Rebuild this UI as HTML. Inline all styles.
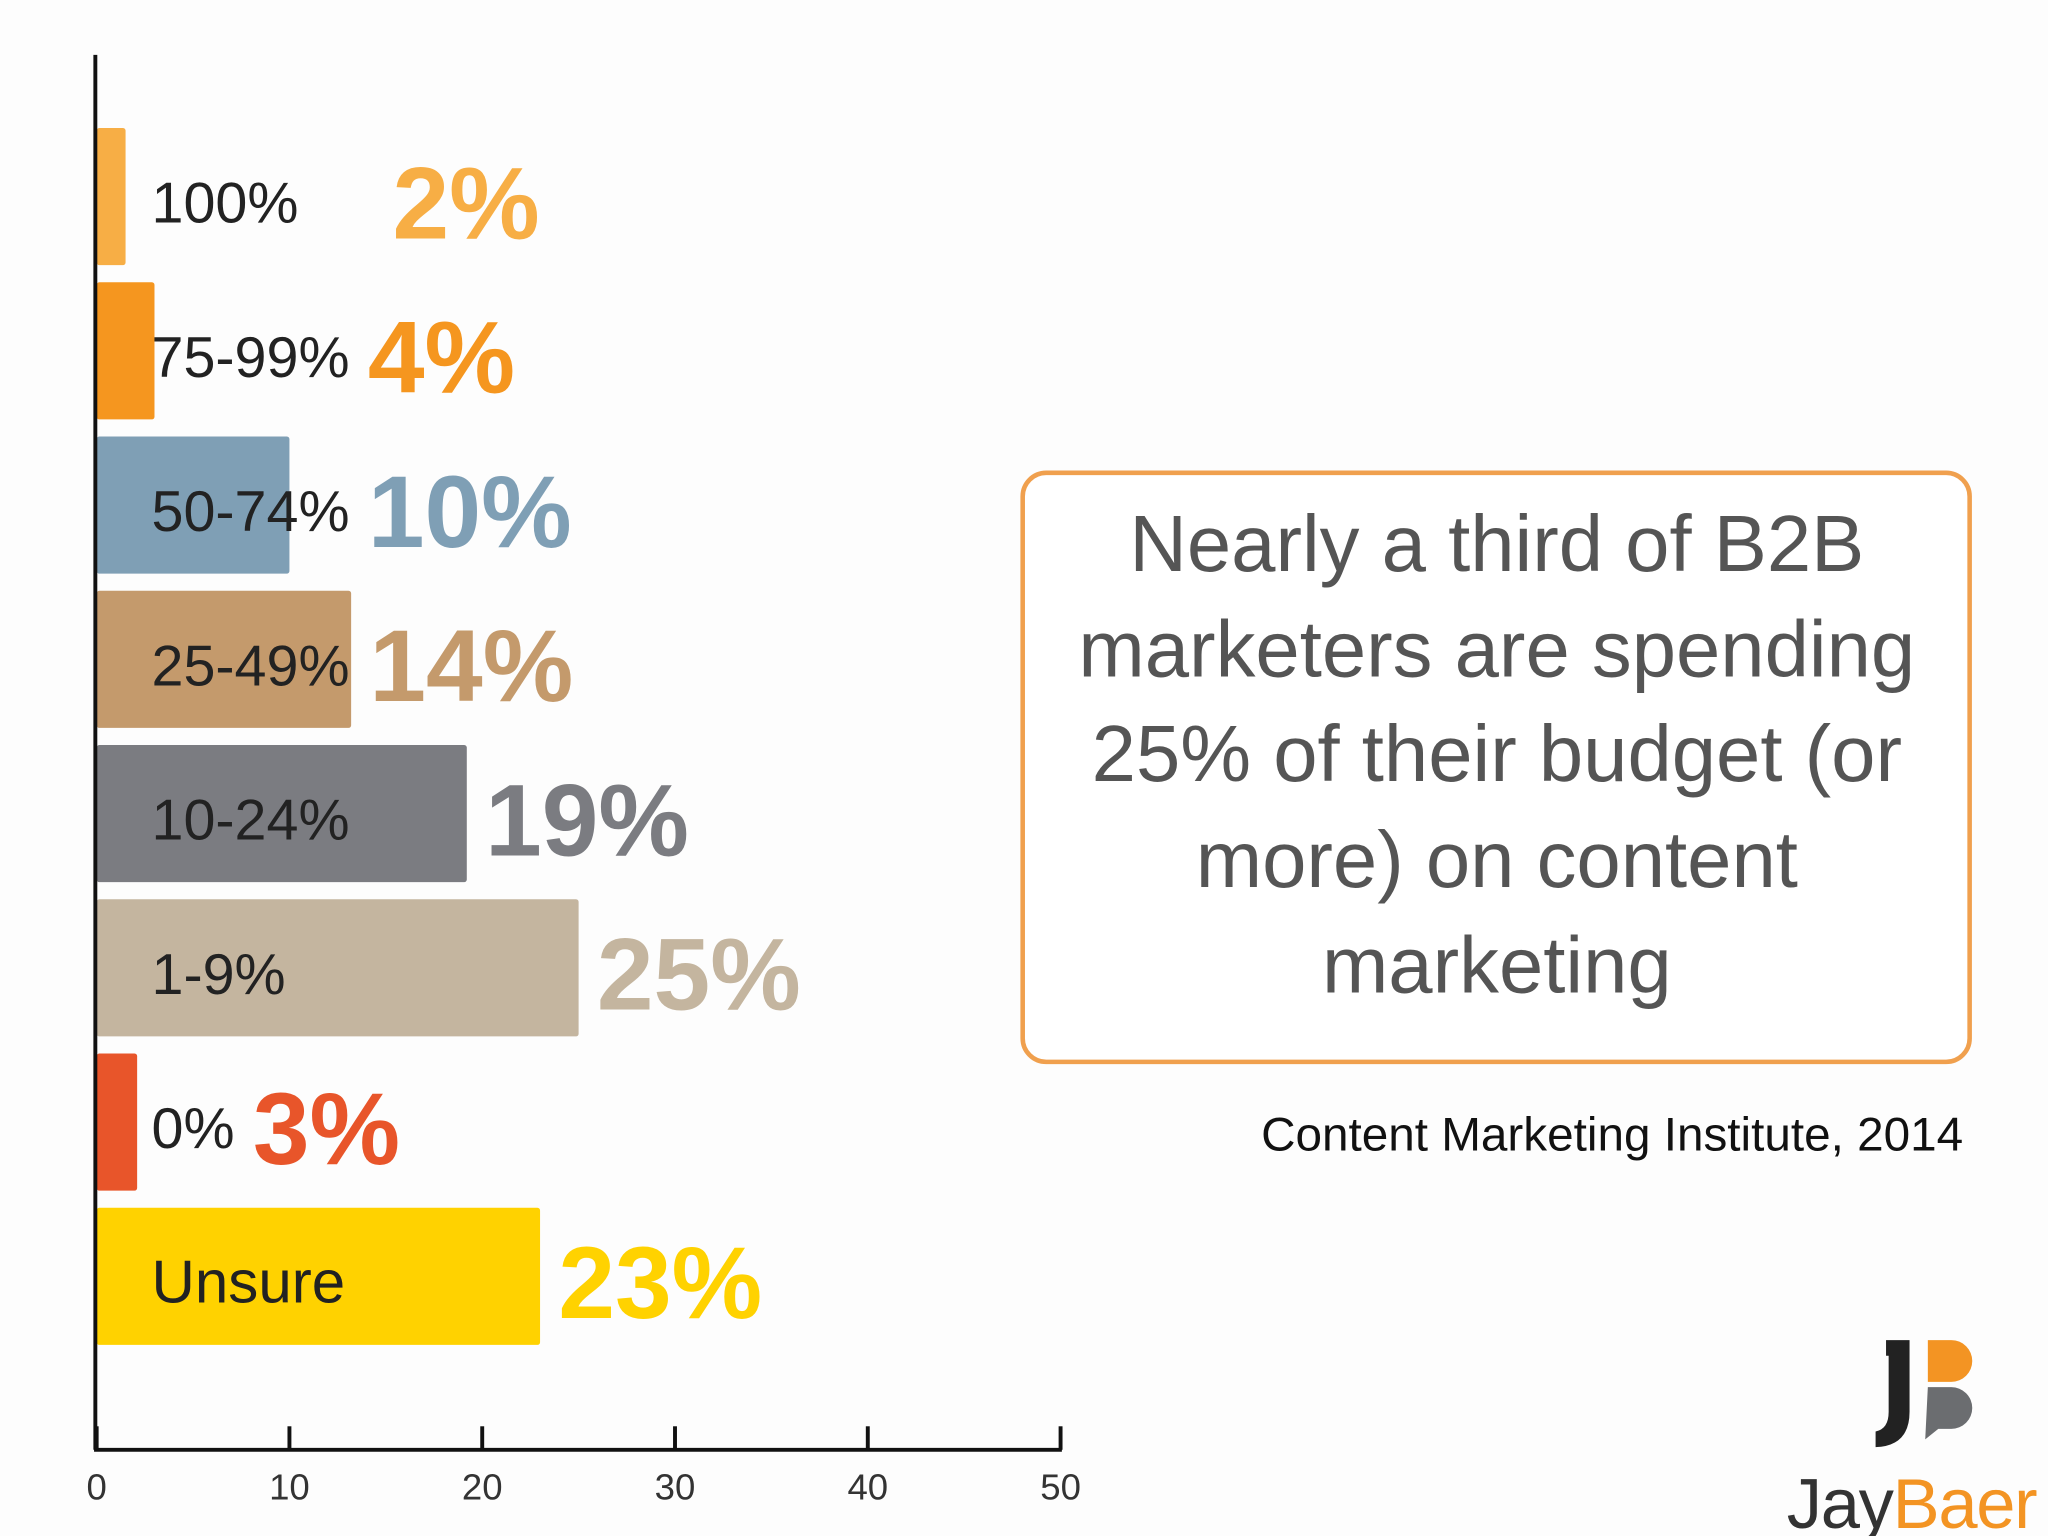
<!DOCTYPE html>
<html><head><meta charset="utf-8"><style>
html,body{margin:0;padding:0;background:#fff}
svg{display:block}
</style></head><body>
<svg width="2048" height="1536" viewBox="0 0 1568 1176" xmlns="http://www.w3.org/2000/svg" font-family="Liberation Sans, sans-serif">
<rect width="1568" height="1176" fill="#fdfdfd"/>
<g id="plot"></g>
<g>
<rect x="783" y="362" width="725" height="451" rx="18" fill="#fff" stroke="#f0a04e" stroke-width="3.5"/>
<g font-size="61" fill="#555" text-anchor="middle">
<text x="1146" y="437">Nearly a third of B2B</text>
<text x="1146" y="518">marketers are spending</text>
<text x="1146" y="598">25% of their budget (or</text>
<text x="1146" y="679">more) on content</text>
<text x="1146" y="760">marketing</text>
</g></g>
<text x="1503" y="881" font-size="36.5" text-anchor="end" fill="#111">Content Marketing Institute, 2014</text>
<g>
<path d="M1444 1026 h18 v55 q0 26 -26 27 v-12 q10 -2 10 -15 v-43 h-2z" fill="#222"/>
<path d="M1476 1026 h18 a16 16 0 0 1 0 32 h-18z" fill="#f39423"/>
<path d="M1476 1062 h18 a16 16 0 0 1 0 32 h-10 l-10 8z" fill="#6b6d70"/>
<text x="1368" y="1170" font-size="54" fill="#333" font-family="Liberation Sans, sans-serif" letter-spacing="-1">Jay<tspan fill="#f39423">Baer</tspan></text>
</g>
<script>
const categories=["100%","75-99%","50-74%","25-49%","10-24%","1-9%","0%","Unsure"];
const values=[2,4,10,14,19,25,3,23];
const barLengths=[1.5,3,10,13.2,19.2,25,2.1,23];
const colors=["#f7ae45","#f5961f","#7f9fb5","#c49a6c","#7b7c81","#c4b59f","#e8552a","#ffd200"];
const ticks=[0,10,20,30,40,50];
const x0=74,x1=812,yAxisTop=42,yAxisBot=1110;
const xs=v=>x0+(v-0)/(50-0)*(x1-x0);
const rowY=i=>98+i*118.1;
const barH=105;
const g=document.getElementById('plot');
const NS="http://www.w3.org/2000/svg";
function mk(t,a){const e=document.createElementNS(NS,t);for(const k in a)e.setAttribute(k,a[k]);g.appendChild(e);return e;}
categories.forEach((c,i)=>{
 const y=rowY(i);
 const r=mk('rect',{x:x0,y:y,width:xs(barLengths[i])-x0,height:barH,fill:colors[i],rx:2});
 
 
 const t=mk('text',{x:x0+42,y:y+barH/2+20,'font-size':c==="Unsure"?46:44,fill:'#222'});
 t.textContent=c;
 
 
 const lw=t.getComputedTextLength();
 const vx=Math.max(xs(barLengths[i]),x0+42+lw)+14+(i===0?58:0);
 const v=mk('text',{x:vx,y:y+barH/2+32,'font-size':78,'font-weight':'bold',fill:colors[i]});
 v.textContent=values[i]+"%";
 
 
});
const ya=mk('line',{x1:x0-1,y1:yAxisTop,x2:x0-1,y2:yAxisBot,stroke:'#111','stroke-width':3});


const xa=mk('line',{x1:x0-2,y1:yAxisBot,x2:x1+1,y2:yAxisBot,stroke:'#111','stroke-width':3});


ticks.forEach(t=>{
 const l=mk('line',{x1:xs(t),y1:yAxisBot,x2:xs(t),y2:yAxisBot-18,stroke:'#111','stroke-width':3});
 
 
 const tx=mk('text',{x:xs(t),y:1148,'font-size':28,'text-anchor':'middle',fill:'#333'});
 tx.textContent=t;
 
 
});
</script>
</svg>
</body></html>
